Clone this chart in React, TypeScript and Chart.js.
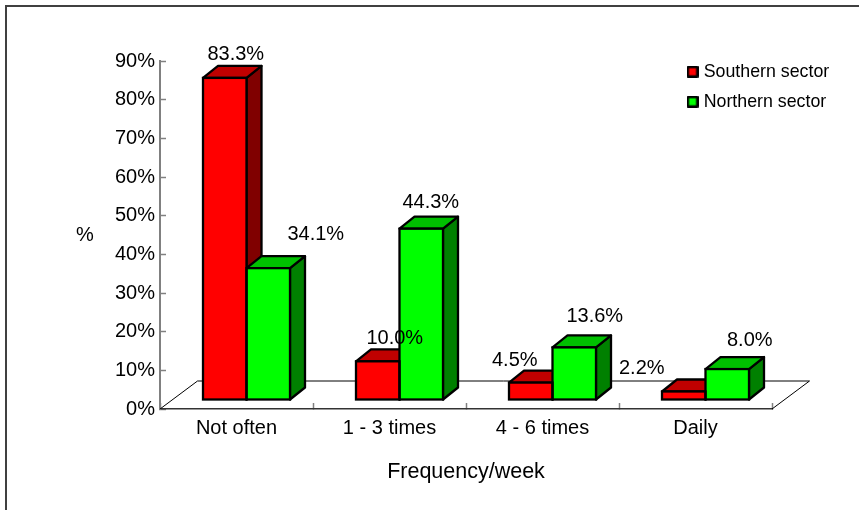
import React, { useEffect, useRef } from "react";
import { Chart, registerables } from "chart.js";

Chart.register(...registerables);

const categories = ["Not often", "1 - 3 times", "4 - 6 times", "Daily"];
const southern = [83.3, 10.0, 4.5, 2.2];
const northern = [34.1, 44.3, 13.6, 8.0];
const yTicksMax = 90;

// hand-placed data label nudges, relative to the centre/top of each bar's front face
const southNudge = [[11, -23.5], [17, -22.5], [-16, -22.5], [-42, -23]];
const northNudge = [[47.5, -33.5], [9.5, -26.5], [20.5, -30.5], [22.5, -28.5]];

const FONT = '"Liberation Sans", Arial, sans-serif';
const W = 859;
const H = 510;
const PLOT = { left: 160, right: 772, top: 61, bottom: 409 };
const FLOOR = { dx: 37.5, dy: -28 };
const BAR_SHIFT = { x: 10, y: -9 };
const DEPTH = { x: 15, y: -12 };
const FACE = [
  { front: "#ff0000", top: "#c00000", side: "#800000" },
  { front: "#00ff00", top: "#00c000", side: "#008000" },
];

function marker(color: string) {
  const c = document.createElement("canvas");
  c.width = 12;
  c.height = 12;
  const g = c.getContext("2d")!;
  g.fillStyle = color;
  g.strokeStyle = "#000";
  g.lineWidth = 2.5;
  g.lineJoin = "round";
  g.fillRect(1, 1, 10, 10);
  g.strokeRect(1.25, 1.25, 9.5, 9.5);
  return c;
}

function poly(ctx: CanvasRenderingContext2D, pts: number[][], fill: string) {
  ctx.beginPath();
  pts.forEach((p, i) => (i ? ctx.lineTo(p[0], p[1]) : ctx.moveTo(p[0], p[1])));
  ctx.closePath();
  ctx.fillStyle = fill;
  ctx.fill();
  ctx.stroke();
}

const box3d = {
  id: "box3d",
  beforeDraw(chart: any) {
    const { ctx } = chart;
    ctx.save();
    ctx.fillStyle = "#fff";
    ctx.fillRect(0, 0, W, H);
    ctx.strokeStyle = "#404040";
    ctx.lineWidth = 2;
    ctx.strokeRect(6, 6, W + 20, H + 20);
    ctx.restore();
  },
  afterLayout(chart: any) {
    const l = chart.legend;
    l.left = 678.1;
    l.right = W;
    l.top = 50.6;
    l.bottom = 150;
  },
  beforeDatasetsDraw(chart: any) {
    const { ctx, chartArea: a } = chart;
    ctx.save();
    ctx.strokeStyle = "#000";
    ctx.lineWidth = 1;
    ctx.beginPath();
    ctx.moveTo(a.left, a.bottom);
    ctx.lineTo(a.left + FLOOR.dx, a.bottom + FLOOR.dy);
    ctx.lineTo(a.right + FLOOR.dx, a.bottom + FLOOR.dy);
    ctx.lineTo(a.right, a.bottom);
    ctx.stroke();
    ctx.restore();

    ctx.save();
    ctx.translate(BAR_SHIFT.x, BAR_SHIFT.y);
    ctx.save();
    ctx.strokeStyle = "#000";
    ctx.lineWidth = 2.3;
    ctx.lineJoin = "round";
    [0, 1].forEach((d) => {
      chart.getDatasetMeta(d).data.forEach((el: any) => {
        const { x, y, base, width } = el.getProps(["x", "y", "base", "width"], true);
        const l = x - width / 2;
        const r = x + width / 2;
        poly(ctx, [[r, y], [r + DEPTH.x, y + DEPTH.y], [r + DEPTH.x, base + DEPTH.y], [r, base]], FACE[d].side);
        poly(ctx, [[l, y], [l + DEPTH.x, y + DEPTH.y], [r + DEPTH.x, y + DEPTH.y], [r, y]], FACE[d].top);
      });
    });
    ctx.restore();
  },
  afterDatasetsDraw(chart: any) {
    const { ctx } = chart;
    ctx.save();
    ctx.strokeStyle = "#000";
    ctx.lineWidth = 2.3;
    [0, 1].forEach((d) => {
      chart.getDatasetMeta(d).data.forEach((el: any) => {
        const { x, y, base, width } = el.getProps(["x", "y", "base", "width"], true);
        ctx.strokeRect(x - width / 2, y, width, base - y);
      });
    });
    ctx.restore();
    ctx.restore(); // undo bar shift

    ctx.save();
    ctx.font = `20px ${FONT}`;
    ctx.fillStyle = "#000";
    ctx.textAlign = "center";
    ctx.textBaseline = "middle";
    [southNudge, northNudge].forEach((nudge, d) => {
      chart.getDatasetMeta(d).data.forEach((el: any, i: number) => {
        const v = chart.data.datasets[d].data[i];
        const { x, y } = el.getProps(["x", "y"], true);
        ctx.fillText(
          `${Number(v).toFixed(1)}%`,
          x + BAR_SHIFT.x + nudge[i][0],
          y + BAR_SHIFT.y + nudge[i][1]
        );
      });
    });
    ctx.fillText("%", 85, 235);
    ctx.restore();
  },
};

export default function App() {
  const ref = useRef<HTMLCanvasElement>(null);
  useEffect(() => {
    const chart = new Chart(ref.current!, {
      type: "bar",
      data: {
        labels: categories,
        datasets: [
          { label: "Southern sector", data: southern, backgroundColor: FACE[0].front, borderWidth: 0, clip: false } as any,
          { label: "Northern sector", data: northern, backgroundColor: FACE[1].front, borderWidth: 0, clip: false } as any,
        ],
      },
      options: {
        animation: false,
        responsive: false,
        layout: { padding: { left: 0, top: PLOT.top, right: W - PLOT.right, bottom: 0 } },
        datasets: { bar: { categoryPercentage: 87 / 153, barPercentage: 1 } },
        scales: {
          x: {
            afterFit: (s: any) => { s.height = H - PLOT.bottom; },
            grid: { drawOnChartArea: false, drawTicks: true, tickLength: -6, tickColor: "#808080", tickWidth: 1.5 },
            border: { color: "#333333", width: 1.5 },
            ticks: { color: "#000", font: { family: FONT, size: 20 }, padding: 13, maxRotation: 0 },
            title: { display: true, text: "Frequency/week", color: "#000", font: { family: FONT, size: 21.5 }, padding: { top: 0, bottom: 25 } },
          },
          y: {
            min: 0,
            max: yTicksMax,
            afterFit: (s: any) => { s.width = PLOT.left; },
            grid: { drawOnChartArea: false, drawTicks: true, tickLength: -6, tickColor: "#808080", tickWidth: 1.5 },
            border: { color: "#808080", width: 2 },
            ticks: {
              stepSize: 10,
              color: "#000",
              font: { family: FONT, size: 20 },
              padding: 11,
              callback: (v: any) => `${v}%`,
            },
          },
        },
        plugins: {
          tooltip: { enabled: false },
          title: { display: false },
          legend: {
            display: true,
            position: "chartArea" as any,
            align: "start",
            labels: {
              color: "#000",
              font: { family: FONT, size: 17.8 },
              padding: 12.2,
              usePointStyle: true,
              pointStyleWidth: 4.5,
              generateLabels: (c: any) =>
                c.data.datasets.map((ds: any, i: number) => ({
                  text: ds.label,
                  datasetIndex: i,
                  fontColor: "#000",
                  pointStyle: marker(FACE[i].front),
                })),
            },
          },
        },
      } as any,
      plugins: [box3d],
    });
    return () => chart.destroy();
  }, []);
  return (
    <div style={{ position: "fixed", left: 0, top: 0, width: W, height: H }}>
      <canvas ref={ref} width={W} height={H} style={{ display: "block" }} />
    </div>
  );
}
